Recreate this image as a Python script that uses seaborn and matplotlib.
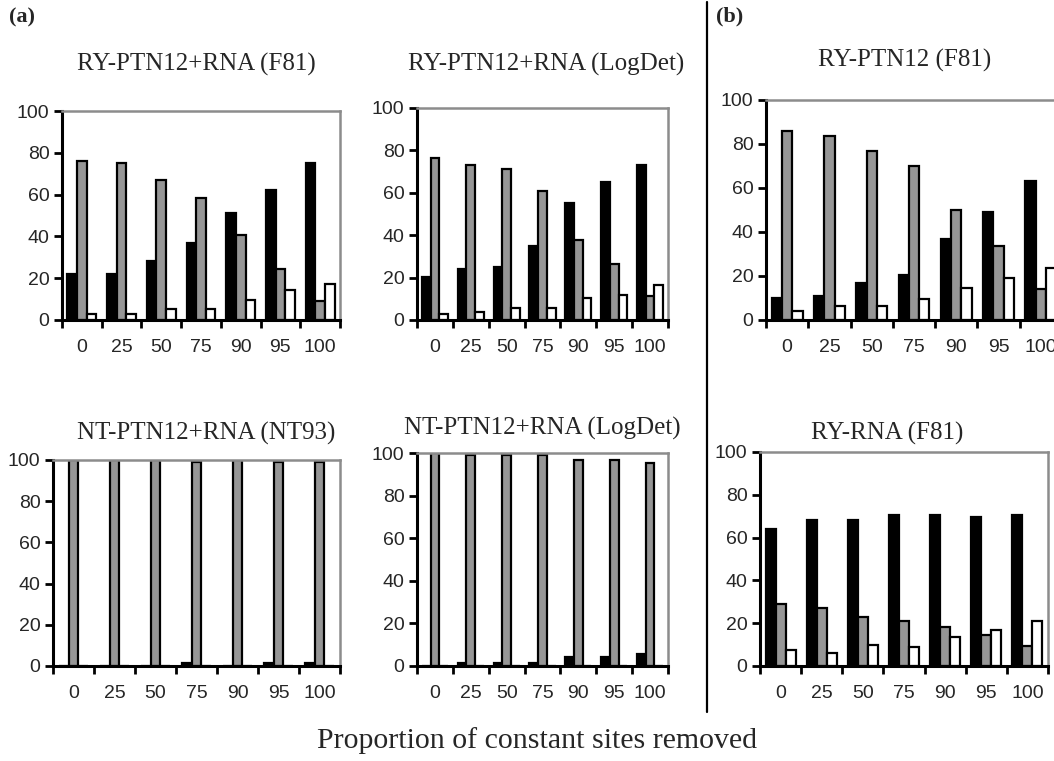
import numpy as np
import pandas as pd
import matplotlib
matplotlib.use("Agg")
import matplotlib.pyplot as plt
import seaborn as sns
from matplotlib.lines import Line2D

# ---------------- data ----------------
categories = ["0", "25", "50", "75", "90", "95", "100"]
series_names = ["Series 1", "Series 2", "Series 3"]   # black, grey, white
series_colors = ["#000000", "#969696", "#ffffff"]

titles = [
    "RY-PTN12+RNA (F81)",
    "RY-PTN12+RNA (LogDet)",
    "RY-PTN12 (F81)",
    "NT-PTN12+RNA (NT93)",
    "NT-PTN12+RNA (LogDet)",
    "RY-RNA (F81)",
]

p1_black = [22, 22, 28, 37, 51, 62, 75]
p1_grey = [76, 75, 67, 58.5, 40.5, 24.5, 9]
p1_white = [3, 3, 5.5, 5.5, 9.5, 14.5, 17]

p2_black = [20.5, 24, 25, 35, 55, 65, 73]
p2_grey = [76.5, 73, 71, 61, 37.5, 26.5, 11.5]
p2_white = [3, 4, 5.5, 5.5, 10.5, 12, 16.5]

p3_black = [10, 11, 17, 20.5, 37, 49, 63]
p3_grey = [86, 83.5, 77, 70, 50, 33.5, 14]
p3_white = [4, 6.5, 6.5, 9.5, 14.5, 19, 23.5]

p4_black = [0, 0, 0, 1.5, 0, 1.5, 1.5]
p4_grey = [100, 100, 100, 99, 100, 99, 99]
p4_white = [0, 0, 0, 0, 0, 0, 0]

p5_black = [0, 1.5, 1.5, 1.5, 4.2, 4.2, 5.5]
p5_grey = [100, 99, 99, 99, 96.5, 96.5, 95.3]
p5_white = [0, 0, 0, 0, 0, 0, 0]

p6_black = [64, 68, 68, 70.5, 70.5, 69.5, 70.5]
p6_grey = [29, 27, 23, 21, 18, 14.5, 9.5]
p6_white = [7.5, 6, 10, 9, 13.5, 17, 21]

panels = [
    (p1_black, p1_grey, p1_white),
    (p2_black, p2_grey, p2_white),
    (p3_black, p3_grey, p3_white),
    (p4_black, p4_grey, p4_white),
    (p5_black, p5_grey, p5_white),
    (p6_black, p6_grey, p6_white),
]

y_ticks = [0, 20, 40, 60, 80, 100]
x_label = "Proportion of constant sites removed"

# ---------------- layout (pixels in a 1054x761 canvas) ----------------
W, H = 1054, 761
# left, right, top, bottom of each plot area
boxes = [
    (62, 340, 111, 320),
    (417, 668, 108, 320),
    (766, 1062, 100, 320),
    (53, 340, 460, 666),
    (417, 668, 453, 666),
    (760, 1048, 452, 666),
]
title_pos = [(196, 64), (546, 64), (905, 60), (206, 433), (542, 428), (887, 433)]

sns.set_theme(style="white")
plt.rcParams["font.family"] = ["Liberation Sans", "DejaVu Sans"]
serif = ["Liberation Serif", "DejaVu Serif"]

fig = plt.figure(figsize=(W / 100, H / 100), dpi=100)

for i, (vals, box) in enumerate(zip(panels, boxes)):
    l, r, t, b = box
    ax = fig.add_axes([l / W, 1 - b / H, (r - l) / W, (b - t) / H])
    df = pd.DataFrame({
        "cat": categories * 3,
        "val": list(vals[0]) + list(vals[1]) + list(vals[2]),
        "series": sum([[s] * len(categories) for s in series_names], []),
    })
    sns.barplot(data=df, x="cat", y="val", hue="series", order=categories,
                hue_order=series_names, palette=series_colors, saturation=1,
                edgecolor="black", linewidth=1.6, width=0.73, gap=0,
                errorbar=None, legend=False, ax=ax)
    ax.set_xlim(-0.5, len(categories) - 0.5)
    ax.set_ylim(0, 100)
    ax.set_yticks(y_ticks)
    ax.set_yticklabels([str(v) for v in y_ticks])
    ax.set_xticks(np.arange(-0.5, len(categories), 1.0))
    ax.set_xticklabels([])
    ax.set_xticks(np.arange(len(categories)), minor=True)
    ax.set_xticklabels(categories, minor=True)
    ax.tick_params(axis="x", which="major", direction="out", length=6, width=2,
                   color="black", bottom=True)
    ax.tick_params(axis="x", which="minor", length=0, pad=14, labelsize=14,
                   bottom=True)
    ax.tick_params(axis="y", direction="out", length=6, width=2, color="black",
                   left=True, pad=3, labelsize=14)
    ax.set_xlabel("")
    ax.set_ylabel("")
    for side in ("left", "bottom"):
        ax.spines[side].set_color("black")
        ax.spines[side].set_linewidth(2.2)
    for side in ("top", "right"):
        ax.spines[side].set_color("#8c8c8c")
        ax.spines[side].set_linewidth(1.8)
    tx, ty = title_pos[i]
    fig.text(tx / W, 1 - ty / H, titles[i], ha="center", va="center",
             fontsize=18, family=serif)

fig.text(22 / W, 1 - 17 / H, "(a)", ha="center", va="center", fontsize=16,
         fontweight="bold", family=serif)
fig.text(730 / W, 1 - 16 / H, "(b)", ha="center", va="center", fontsize=16,
         fontweight="bold", family=serif)
fig.text(537 / W, 1 - 741 / H, x_label, ha="center", va="center", fontsize=21.5,
         family=serif)

fig.add_artist(Line2D([707 / W, 707 / W], [1 - 2 / H, 1 - 712 / H],
                      color="black", linewidth=1.6, transform=fig.transFigure))

fig.savefig("out.png", dpi=100, facecolor="white")
